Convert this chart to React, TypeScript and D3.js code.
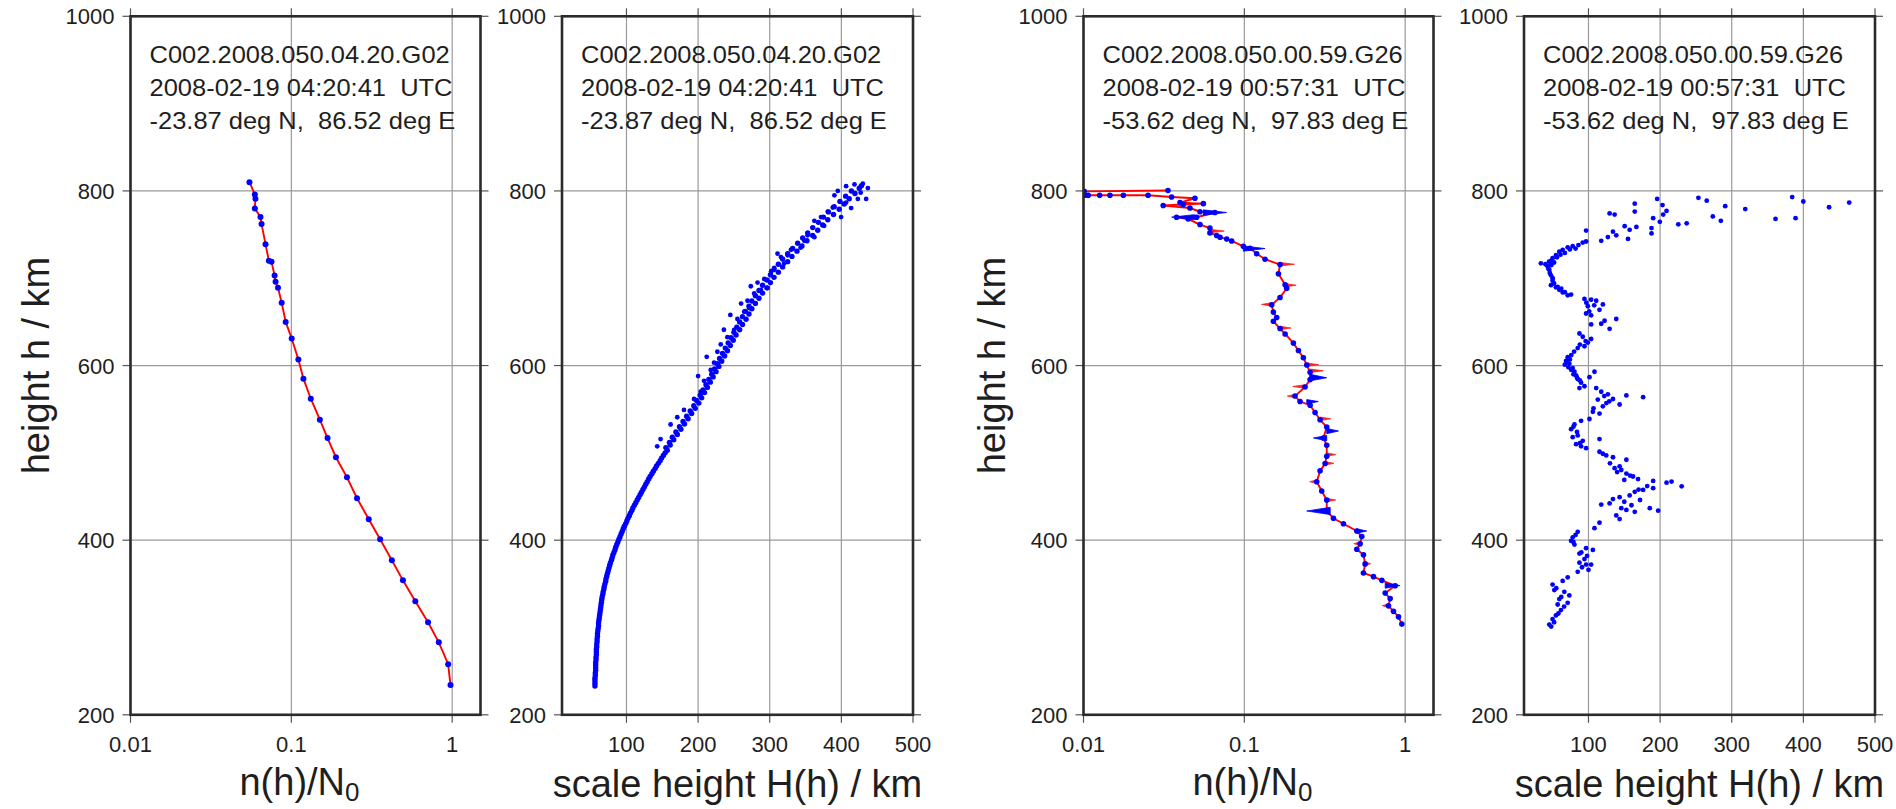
import React from 'react';
import * as d3 from 'd3';

const FONT = '"Liberation Sans", Arial, Helvetica, sans-serif';

// ---------- axis ticks / labels ----------
const heightTicks = [200, 400, 600, 800, 1000];
const ratioTicks = [0.01, 0.1, 1];
const ratioTickLabels = ['0.01', '0.1', '1'];
const scaleTicks = [100, 200, 300, 400, 500];
const heightDomain: [number, number] = [200, 1000];
const ratioDomain: [number, number] = [0.01, 1.5];
const scaleDomain: [number, number] = [10, 500];

const infoA = ['C002.2008.050.04.20.G02', '2008-02-19 04:20:41  UTC', '-23.87 deg N,  86.52 deg E'];
const infoB = ['C002.2008.050.00.59.G26', '2008-02-19 00:57:31  UTC', '-53.62 deg N,  97.83 deg E'];

// ---------- profile A : n(h)/N0 , height ----------
const densityA: [number, number][] = [
  [0.0549, 810], [0.0593, 796], [0.0598, 791], [0.0593, 780], [0.0643, 770], [0.0653, 762],
  [0.0691, 739], [0.0725, 720], [0.0753, 719], [0.0787, 703], [0.0798, 696], [0.0826, 689],
  [0.0871, 672], [0.0922, 650], [0.1005, 631], [0.1106, 607], [0.1189, 585], [0.1321, 562],
  [0.1504, 538], [0.1679, 517], [0.1893, 495], [0.2218, 472], [0.2561, 448], [0.303, 424],
  [0.3565, 401], [0.4217, 377], [0.4941, 354], [0.5899, 330], [0.708, 306], [0.8258, 283],
  [0.9441, 258], [0.9763, 234],
];

// ---------- profile A : scale height H(h), height ----------
const scaleHeightA: [number, number][] = [
  [56, 233], [56, 236], [56, 239], [56, 242], [56.5, 245], [56.5, 248], [57, 251], [57, 254], [57, 257], [57, 260],
  [57.5, 263], [57.5, 266], [58, 269], [58, 272], [58, 275], [58.5, 278], [58.5, 281], [59, 284], [59, 287], [59.5, 290],
  [59.5, 293], [60, 296], [60.5, 299], [61, 302], [61, 305], [61.5, 308], [62, 311], [62.5, 314], [63, 317], [63.5, 320],
  [64, 323], [64.5, 326], [65, 329], [65.5, 332], [66, 335], [67, 338], [67.5, 341], [68.5, 344], [69, 347], [70, 350],
  [71, 353], [71.5, 356], [72.5, 359], [73.5, 362], [74.5, 365], [75.5, 368], [76.5, 371], [77.5, 374], [79, 377], [80, 380],
  [81, 383], [82.5, 386], [84, 389], [85, 392], [86.5, 395], [88, 398], [89.5, 401], [91, 404], [92.5, 407], [94, 410],
  [95.5, 413], [97, 416], [99, 419], [100.5, 422], [102, 425], [104, 428], [105.5, 431], [107.5, 434], [109, 437], [111, 440],
  [113, 443], [115, 446], [117, 449], [119, 452], [121, 455], [123, 458], [125, 461], [127, 464], [129, 467], [131, 470],
  [133, 473], [135.5, 476], [137.5, 479], [140, 482], [142, 485], [144.5, 488], [147, 491], [149, 494], [151.5, 497], [154, 500],
  [157, 503], [155, 506], [161, 509], [160, 512], [166, 515], [164, 518], [171, 521], [169, 524], [176, 527], [174, 530],
  [181, 533], [179, 536], [186, 539], [184, 542], [191, 545], [189, 548], [196, 551], [194, 554], [201, 557], [198, 560],
  [205, 563], [203, 566], [209, 569], [207, 572], [213, 575], [211, 578], [217, 581], [215, 584], [221, 587], [219, 590],
  [225, 593], [223, 596], [229, 599], [227, 602], [233, 605], [230, 608], [237, 611], [234, 614], [241, 617], [238, 620],
  [245, 623], [242, 626], [249, 629], [246, 632], [253, 635], [250, 638], [258, 641], [254, 644], [262, 647], [258, 650],
  [267, 653], [262, 656], [271, 659], [266, 662], [275, 665], [271, 668], [280, 671], [275, 674], [285, 677], [280, 680],
  [290, 683], [285, 686], [296, 689], [290, 692], [301, 695], [296, 698], [306, 701], [301, 704], [312, 707], [306, 710],
  [318, 713], [312, 716], [325, 719], [318, 722], [331, 725], [325, 728], [338, 731], [332, 734], [345, 737], [339, 740],
  [352, 743], [346, 746], [360, 749], [353, 752], [367, 755], [360, 758], [374, 761], [368, 764], [381, 767], [375, 770],
  [389, 773], [382, 776], [397, 779], [390, 782], [404, 785], [398, 788], [411, 791], [406, 794], [419, 797], [414, 800],
  [425, 803], [428, 806],
];
const scaleHeightAScatter: [number, number][] = [
  [406.6, 805.4], [418.3, 807.5], [430, 808.3], [437, 803.3], [434.6, 790.8], [423, 790.8],
  [413.6, 780.4], [406.6, 786.7], [390.3, 795], [381, 776.3], [399.6, 770], [371.6, 770],
  [362.3, 765.8], [352.9, 749.2], [362.3, 747], [348.3, 742.9], [329.6, 732.5], [325, 726.3],
  [315.6, 724.2], [310.9, 728.3], [306.3, 711.7], [292.3, 699.2], [287.6, 686.7], [296.9, 688.8],
  [278.3, 682.5], [273.6, 690.8], [269, 674.2], [264.3, 661.7], [271.3, 665.8], [254.9, 653.3],
  [250.3, 640.8], [240.9, 632.5], [231.6, 624.2], [226.9, 615.8], [222.3, 603.3], [217.6, 595],
  [208.3, 582.5], [203.6, 570], [194.3, 561.7], [180.3, 549.2], [170.9, 540.8], [161.6, 532.5],
  [147.6, 515.8], [142.9, 507.5], [427, 798], [395, 800], [388, 781], [376, 760], [343, 735],
  [320, 717], [302, 708], [283, 695], [260, 671], [245, 658], [236, 641], [212, 610], [200, 588],
];

// ---------- profile B : n(h)/N0 , height ----------
const densityB: [number, number][] = [
  [0.0335, 800.5], [0.0101, 799.5],
  [0.0102, 795], [0.0107, 795], [0.0126, 795], [0.0146, 795], [0.0177, 795], [0.0252, 795],
  [0.0353, 793], [0.0493, 791.6], [0.0398, 786.6], [0.0556, 785.4], [0.0417, 784.5], [0.0313, 783.3],
  [0.0459, 780.4], [0.053, 776.2], [0.0656, 775.3], [0.0505, 769.9], [0.0379, 769.9], [0.0448, 767.8],
  [0.053, 761.5], [0.0611, 757.4], [0.0611, 751.9], [0.0673, 749], [0.0706, 746.9], [0.0777, 744.8],
  [0.0834, 742.7], [0.0986, 736.5], [0.1084, 734.4], [0.1193, 728.1], [0.1345, 721.8], [0.1667, 715.6],
  [0.1629, 705.1], [0.1793, 692.6], [0.1834, 688.4], [0.1667, 678], [0.148, 669.6], [0.1515, 661.2],
  [0.1589, 655], [0.1515, 650.8], [0.1667, 642.4], [0.1793, 636.2], [0.2018, 625.7], [0.2169, 617.3],
  [0.2329, 609], [0.2444, 600.6], [0.2564, 592.3], [0.2564, 583.9], [0.2385, 575.5], [0.2067, 565.1],
  [0.222, 558.8], [0.2564, 554.6], [0.2753, 546.3], [0.2957, 537.9], [0.3253, 529.6], [0.3102, 517],
  [0.3253, 508.7], [0.3253, 496.1], [0.3178, 487.8], [0.2957, 479.4], [0.2819, 466.9], [0.3028, 456.4],
  [0.3253, 445.9], [0.3253, 433.4], [0.3581, 425.1], [0.413, 418.8], [0.5002, 410.5], [0.5373, 404.2],
  [0.5248, 395.8], [0.5002, 389.6], [0.5502, 383.3], [0.5637, 372.8], [0.5502, 362.4], [0.6353, 358.2],
  [0.7161, 354], [0.8664, 347.8], [0.7509, 339.4], [0.8066, 333.1], [0.7874, 324.8], [0.8459, 318.5],
  [0.9089, 312.2], [0.9534, 303.9],
];

// sharp excursions of profile B (base value, tip value, upper height, tip height, lower height)
const spikesBlueB: [number, number, number, number, number][] = [
  [0.0556, 0.0776, 778.3, 775.3, 772],
  [0.049, 0.0353, 772.8, 770, 767],
  [0.0986, 0.1345, 737, 734, 731],
  [0.2564, 0.3253, 590, 586, 582.5],
  [0.2444, 0.2887, 561, 558.8, 556],
  [0.3253, 0.385, 528, 525, 522],
  [0.3253, 0.2687, 520, 517, 514],
  [0.3418, 0.2444, 437.6, 433.4, 429.3],
  [0.5002, 0.577, 413, 410.5, 408],
  [0.7509, 0.93, 351, 348, 345],
];
const spikesRedB: [number, number, number, number, number][] = [
  [0.0611, 0.075, 756, 754, 752],
  [0.1667, 0.205, 718, 716, 714],
  [0.1793, 0.21, 694, 692, 690],
  [0.148, 0.128, 672, 670, 668],
  [0.1667, 0.195, 645, 643, 641],
  [0.2444, 0.29, 603, 601, 599],
  [0.2564, 0.31, 596, 594, 592],
  [0.2385, 0.2, 578, 576, 574],
  [0.2067, 0.185, 567, 565, 563],
  [0.2957, 0.345, 541, 539, 537],
  [0.3253, 0.37, 500, 498, 496],
  [0.3178, 0.36, 490, 488, 486],
  [0.2819, 0.255, 469, 467, 465],
  [0.3253, 0.37, 448, 446, 444],
  [0.5248, 0.48, 398, 396, 394],
  [0.5637, 0.61, 375, 373, 371],
  [0.7874, 0.72, 327, 325, 323],
];

// ---------- profile B : scale height H(h), height ----------
const scaleHeightB: [number, number][] = [
  [195.9, 790.8], [253.5, 792.1], [265.1, 788.8], [384.4, 792.9], [399.9, 787.9], [464, 786.7],
  [164.6, 785.4], [203.4, 783.8], [290.9, 782.5], [318.9, 779.2], [435.9, 781.3], [164.6, 776.3],
  [209, 777.1], [204.3, 772.9], [129.5, 774.2], [136.5, 772.9], [190.3, 768.8], [273.6, 770.8],
  [284.8, 765.8], [361.1, 767.9], [389.1, 768.8], [199.6, 764.6], [225.4, 761.7], [237.1, 762.9],
  [150.5, 759.6], [166.9, 758.8], [157.5, 755.4], [188, 757.5], [188, 751.3], [134.2, 753.3],
  [138.8, 749.2], [127.1, 747.1], [117.8, 742.9], [155.2, 745], [96.7, 754.6], [96.7, 742.1],
  [92, 740.8], [78, 736.7], [71, 735.4], [64, 732.5], [59.3, 730.4], [54.6, 726.3], [49.9, 722.9],
  [47.6, 720], [33.6, 717.1], [42.9, 713.8], [45.3, 709.6], [47.6, 703.3], [49.9, 697.1],
  [47.6, 692.1], [54.6, 689.6], [59.3, 686.7], [64, 683.8], [71, 680.4], [75.7, 681.3],
  [82, 734], [86, 738], [74, 733], [67, 729], [61, 727], [56, 724], [52, 718], [48, 715], [44, 711],
  [46, 706], [50, 700], [52, 694], [57, 690], [62, 688], [67, 684], [40, 716], [45, 719],
  [94.4, 676.3], [103.7, 675.4], [110.8, 674.2], [120.1, 670], [99.1, 667.9], [115.4, 663.8],
  [96.7, 659.6], [103.7, 657.5], [122.5, 651.3], [138.8, 653.3], [117.8, 647.9], [103.7, 647.1],
  [129.5, 642.1], [87.4, 636.7], [103.7, 630.4], [99.1, 626.3], [94.4, 622.1], [85, 620],
  [97, 672], [108, 669], [101, 662], [92, 633], [96, 628], [88, 624], [80, 616], [76, 612],
  [71, 609.6], [68.7, 605.4], [73.3, 602.1], [78, 597.1], [80.4, 592.9], [82.7, 588.8],
  [70, 604], [74, 607], [67, 601], [72, 598], [76, 595], [79, 590], [84, 586], [88, 583],
  [85, 584.6], [89.7, 580.4], [94.4, 576.3], [87.4, 574.2], [101.4, 586.7], [108.4, 592.9],
  [110.8, 574.2], [117.8, 570], [127.1, 567.1], [134.2, 561.7], [152.9, 565.8], [176.3, 563.8],
  [122, 565], [129, 559], [113, 561], [107, 551], [125, 557],
  [143.5, 555.4], [120.1, 553.3], [106.1, 547.1], [115.4, 545], [101.4, 538.8], [89.7, 536.7],
  [80.4, 532.5], [75.7, 527.1], [85, 520], [92, 513.8], [82.7, 510], [89.7, 507.5], [96.7, 505.4],
  [79, 530], [84, 524], [78, 518], [88, 511],
  [115.4, 515.8], [115.4, 501.3], [124.8, 497.1], [134.2, 495], [152.9, 492.1], [143.5, 484.6],
  [136.5, 482.5], [145.8, 480.4], [152.9, 476.3], [162.2, 472.9], [169.2, 470], [190.3, 467.9],
  [120, 499], [130, 488], [140, 478], [158, 474], [150, 469],
  [190.3, 459.6], [209, 465.8], [216, 467.1], [230.1, 461.7], [176.3, 457.5], [164.6, 455.4],
  [157.5, 451.3], [143.5, 449.2], [134.2, 447.1], [117.8, 440.8], [129.5, 442.1], [145.8, 436.7],
  [152.9, 434.6], [164.6, 432.5], [185.6, 436.7], [197.3, 433.8], [138.8, 428.3], [143.5, 424.2],
  [170, 458], [182, 462], [160, 440], [172, 446], [150, 444],
  [115.4, 420], [108.4, 413.8], [85, 409.6], [78, 403.3], [75.7, 399.2], [80.4, 395], [96.7, 390.8],
  [106.1, 388.8], [87.4, 384.6], [94.4, 378.3], [87.4, 374.2], [96.7, 372.1], [103.7, 372.1],
  [82, 406], [79, 398], [90, 386], [98, 382], [91, 369], [100, 366],
  [85, 363.8], [71, 357.5], [64, 353.3], [49.9, 349.2], [52.3, 342.9], [66.3, 340.8], [73.3, 336.7],
  [59.3, 332.5], [71, 328.3], [57, 326.3], [61.6, 320], [54.6, 313.8], [49.9, 309.6], [45.3, 303.3],
  [55, 345], [62, 335], [66, 324], [58, 316], [52, 306], [48, 301],
];

// ---------- layout ----------
const TOP = 16.3;
const BOTTOM = 714.8;
const TICK = 8;

type PanelProps = {
  id: string;
  left: number;
  right: number;
  kind: 'ratio' | 'scale';
  info: string[];
  yTitle: boolean;
  yTitleX?: number;
  render: (x: (v: number) => number, y: (v: number) => number) => React.ReactNode;
};

function Panel({ id, left, right, kind, info, yTitle, yTitleX, render }: PanelProps) {
  const y = d3.scaleLinear().domain(heightDomain).range([BOTTOM, TOP]);
  const x: any =
    kind === 'ratio'
      ? d3.scaleLog().domain(ratioDomain).range([left, right])
      : d3.scaleLinear().domain(scaleDomain).range([left, right]);
  const xt = kind === 'ratio' ? ratioTicks : scaleTicks;
  const xl = kind === 'ratio' ? ratioTickLabels : scaleTicks.map(String);
  const gridC = '#9a9a9a';
  const tickC = '#555';
  const txt = '#1e1e1e';
  const midX = (left + right) / 2;
  return (
    <g>
      <defs>
        <clipPath id={id}>
          <rect x={left} y={TOP} width={right - left} height={BOTTOM - TOP} />
        </clipPath>
      </defs>
      {heightTicks.map((t) => (
        <line key={'gy' + t} x1={left} x2={right} y1={y(t)} y2={y(t)} stroke={gridC} strokeWidth={1.2} />
      ))}
      {xt.map((t) => (
        <line key={'gx' + t} x1={x(t)} x2={x(t)} y1={TOP} y2={BOTTOM} stroke={gridC} strokeWidth={1.2} />
      ))}
      {heightTicks.map((t) => (
        <g key={'ty' + t}>
          <line x1={left - TICK} x2={left} y1={y(t)} y2={y(t)} stroke={tickC} strokeWidth={1.2} />
          <line x1={right} x2={right + TICK} y1={y(t)} y2={y(t)} stroke={tickC} strokeWidth={1.2} />
        </g>
      ))}
      {xt.map((t) => (
        <g key={'tx' + t}>
          <line x1={x(t)} x2={x(t)} y1={TOP - TICK} y2={TOP} stroke={tickC} strokeWidth={1.2} />
          <line x1={x(t)} x2={x(t)} y1={BOTTOM} y2={BOTTOM + TICK} stroke={tickC} strokeWidth={1.2} />
        </g>
      ))}
      {info.map((s, i) => (
        <text
          key={'i' + i}
          transform={`translate(${left + 19},${63 + i * 33}) scale(1.04,1)`}
          fontFamily={FONT}
          fontSize={24.5}
          fill={txt}
          style={{ whiteSpace: 'pre' }}
        >
          {s}
        </text>
      ))}
      <g clipPath={`url(#${id})`}>{render(x, y)}</g>
      <rect x={left} y={TOP} width={right - left} height={BOTTOM - TOP} fill="none" stroke="#2b2b2b" strokeWidth={2.6} />
      {heightTicks.map((t) => (
        <text key={'ly' + t} x={left - 16} y={y(t) + 8} textAnchor="end" fontFamily={FONT} fontSize={22} fill={txt}>
          {t}
        </text>
      ))}
      {xt.map((t, i) => (
        <text key={'lx' + t} x={x(t)} y={752} textAnchor="middle" fontFamily={FONT} fontSize={22} fill={txt}>
          {xl[i]}
        </text>
      ))}
      {kind === 'ratio' ? (
        <text x={midX - 6} y={795} textAnchor="middle" fontFamily={FONT} fontSize={38} fill={txt}>
          n(h)/N
          <tspan fontSize={26} dy={6}>0</tspan>
        </text>
      ) : (
        <text x={midX} y={797} textAnchor="middle" fontFamily={FONT} fontSize={38} fill={txt}>
          scale height H(h) / km
        </text>
      )}
      {yTitle && (
        <text
          transform={`translate(${yTitleX},${(TOP + BOTTOM) / 2}) rotate(-90)`}
          textAnchor="middle"
          fontFamily={FONT}
          fontSize={38}
          fill={txt}
        >
          height h / km
        </text>
      )}
    </g>
  );
}

function dots(data: [number, number][], x: any, y: any, r: number, key: string) {
  return data.map((d, i) => <circle key={key + i} cx={x(d[0])} cy={y(d[1])} r={r} fill="#0000ff" />);
}

function spikes(data: [number, number, number, number, number][], x: any, y: any, color: string, key: string) {
  return data.map((s, i) => (
    <polygon
      key={key + i}
      points={`${x(s[0])},${y(s[2])} ${x(s[1])},${y(s[3])} ${x(s[0])},${y(s[4])}`}
      fill={color}
      stroke={color}
      strokeWidth={0.8}
      strokeLinejoin="miter"
    />
  ));
}

export default function App() {
  const lineOf = (data: [number, number][], x: any, y: any) =>
    d3
      .line<[number, number]>()
      .x((d) => x(d[0]))
      .y((d) => y(d[1]))(data) as string;
  return (
    <svg
      width={1896}
      height={809}
      viewBox="0 0 1896 809"
      style={{ position: 'absolute', left: 0, top: 0, background: '#fff' }}
    >
      <rect x={0} y={0} width={1896} height={809} fill="#fff" />
      <Panel
        id="p1"
        left={130.5}
        right={480.5}
        kind="ratio"
        info={infoA}
        yTitle
        yTitleX={49}
        render={(x, y) => (
          <g>
            <path d={lineOf(densityA, x, y)} fill="none" stroke="#ff0000" strokeWidth={1.9} />
            {dots(densityA, x, y, 3, 'a')}
          </g>
        )}
      />
      <Panel
        id="p2"
        left={562}
        right={913}
        kind="scale"
        info={infoA}
        yTitle={false}
        render={(x, y) => (
          <g>
            {dots(scaleHeightA, x, y, 2.7, 'b')}
            {dots(scaleHeightAScatter, x, y, 2.4, 'c')}
          </g>
        )}
      />
      <Panel
        id="p3"
        left={1083.5}
        right={1433.5}
        kind="ratio"
        info={infoB}
        yTitle
        yTitleX={1005}
        render={(x, y) => (
          <g>
            {spikes(spikesRedB, x, y, '#ff2020', 'r')}
            <path d={lineOf(densityB, x, y)} fill="none" stroke="#ff0000" strokeWidth={1.9} />
            {spikes(spikesBlueB, x, y, '#0000ff', 's')}
            {dots(densityB, x, y, 2.8, 'd')}
          </g>
        )}
      />
      <Panel
        id="p4"
        left={1524}
        right={1875}
        kind="scale"
        info={infoB}
        yTitle={false}
        render={(x, y) => <g>{dots(scaleHeightB, x, y, 2.4, 'e')}</g>}
      />
    </svg>
  );
}
